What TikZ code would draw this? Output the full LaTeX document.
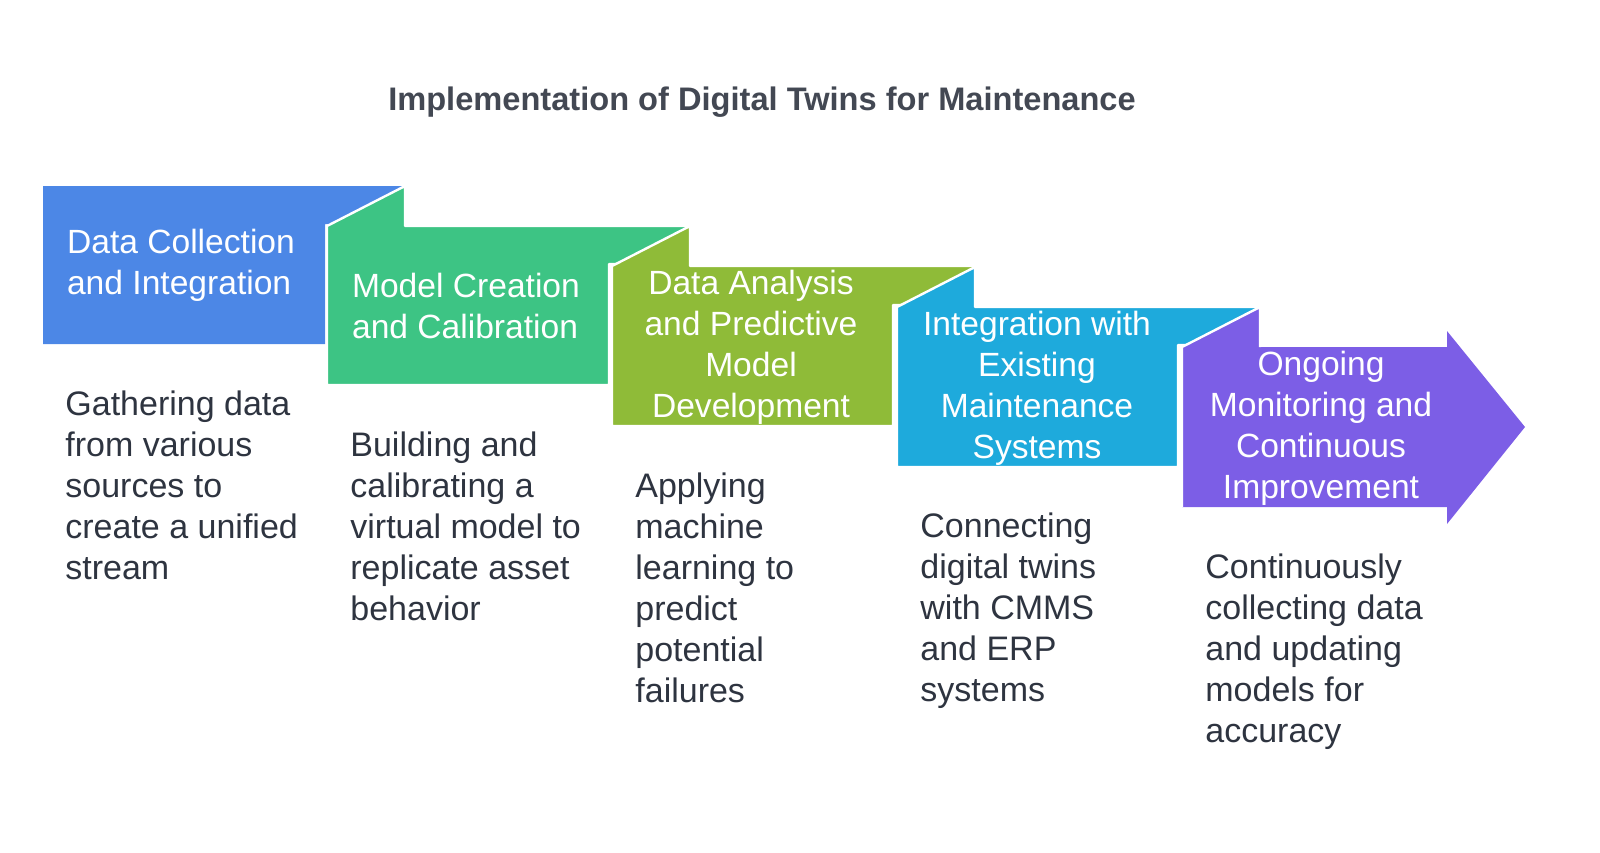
\documentclass[tikz,border=0pt]{standalone}
\usepackage{fontspec}
\setmainfont{Liberation Sans}
\definecolor{cA}{HTML}{4C87E6}
\definecolor{cB}{HTML}{3DC484}
\definecolor{cC}{HTML}{8FBB38}
\definecolor{cD}{HTML}{1EAADC}
\definecolor{cE}{HTML}{7C5EE6}
\definecolor{txt}{HTML}{2E3440}
\begin{document}
\begin{tikzpicture}[x=0.5pt,y=-0.5pt,
  shp/.style={draw=white,line width=1.2pt,line join=round},
  lab/.style={text=white,font=\fontsize{16.8}{20.5}\selectfont,align=center},
  labl/.style={text=white,font=\fontsize{16.8}{20.5}\selectfont,align=left,anchor=west},
  desc/.style={text=txt,font=\fontsize{17}{20.5}\selectfont,align=left,anchor=north west,inner sep=0pt}]
\node[font=\bfseries\fontsize{16.3}{20}\selectfont,text=txt!90] (title) at (762,102) {Implementation of Digital Twins for Maintenance};
% shape 1
\fill[cA] (43,186) -- (405,186) -- (405,224) -- (325,224) -- (325,344) -- (43,344) -- cycle;
% shape 2
\filldraw[shp,fill=cB] (327,226) -- (405,186) -- (405,226) -- (690,226) -- (690,264) -- (609,264) -- (609,385) -- (327,385) -- cycle;
% shape 3
\filldraw[shp,fill=cC] (612,266) -- (690,226) -- (690,266) -- (975,266) -- (975,305) -- (893,305) -- (893,426) -- (612,426) -- cycle;
% shape 4
\filldraw[shp,fill=cD] (897,307) -- (975,267) -- (975,307) -- (1260,307) -- (1260,345) -- (1178,345) -- (1178,467) -- (897,467) -- cycle;
% shape 5
\fill[cE] (1182,347) -- (1260,307) -- (1260,347) -- (1447,347) -- (1447,331) -- (1525,427) -- (1447,524) -- (1447,507) -- (1182,507) -- cycle;
\draw[shp] (1182,507) -- (1182,347) -- (1260,307) -- (1260,347);
\node[labl] (l1) at (60,265) {Data Collection\\and Integration};
\node[labl] (l2) at (345,306) {Model Creation\\and Calibration};
\node[lab] (l3) at (751,347) {Data Analysis\\and Predictive\\Model\\Development};
\node[lab] (l4) at (1037,388) {Integration with\\Existing\\Maintenance\\Systems};
\node[lab] (l5) at (1321,428) {Ongoing\\Monitoring and\\Continuous\\Improvement};
\node[desc] (d1) at (65,390) {Gathering data\\from various\\sources to\\create a unified\\stream};
\node[desc] (d2) at (350,431) {Building and\\calibrating a\\virtual model to\\replicate asset\\behavior};
\node[desc] (d3) at (635,472) {Applying\\machine\\learning to\\predict\\potential\\failures};
\node[desc] (d4) at (920,512) {Connecting\\digital twins\\with CMMS\\and ERP\\systems};
\node[desc] (d5) at (1205,553) {Continuously\\collecting data\\and updating\\models for\\accuracy};
\pgfresetboundingbox
\useasboundingbox (0,0) rectangle (1600,852);
\end{tikzpicture}
\end{document}
